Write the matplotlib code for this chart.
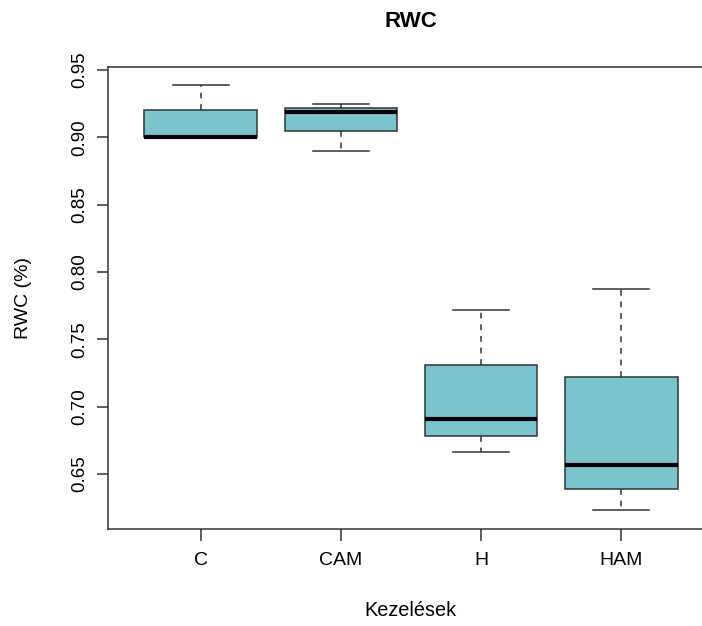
import matplotlib.pyplot as plt

plt.rcParams['font.family'] = ['Liberation Sans', 'DejaVu Sans']

# Boxplot statistics
groups = ['C', 'CAM', 'H', 'HAM']
mins = [0.900, 0.890, 0.666, 0.623]
q1s = [0.900, 0.905, 0.678, 0.639]
medians = [0.900, 0.919, 0.691, 0.6565]
q3s = [0.920, 0.922, 0.731, 0.722]
maxs = [0.939, 0.9245, 0.7715, 0.7875]

stats = []
for name, lo, q1, med, q3, hi in zip(groups, mins, q1s, medians, q3s, maxs):
    stats.append({'label': name, 'whislo': lo, 'q1': q1, 'med': med,
                  'q3': q3, 'whishi': hi, 'fliers': []})

fig = plt.figure(figsize=(7.02, 6.26), dpi=100)
ax = fig.add_axes([108/702, 1 - 529/626, (714 - 108)/702, (529 - 67)/626])

edge = '#333333'
ax.bxp(stats, positions=range(1, len(groups) + 1), widths=0.8,
       patch_artist=True, showfliers=False,
       boxprops=dict(facecolor='#7AC5CD', edgecolor=edge, linewidth=1.1),
       medianprops=dict(color='black', linewidth=3.0, solid_capstyle='butt'),
       whiskerprops=dict(color=edge, linewidth=1.1, linestyle=(0, (3.8, 3.8))),
       capprops=dict(color=edge, linewidth=1.1), capwidths=0.4)

ax.set_xlim(0.34, 4.66)
ax.set_ylim(0.6092, 0.9522)
ax.set_yticks([0.65, 0.70, 0.75, 0.80, 0.85, 0.90, 0.95])
ax.set_yticklabels(['0.65', '0.70', '0.75', '0.80', '0.85', '0.90', '0.95'],
                   rotation=90, va='center')
ax.tick_params(axis='y', length=8, width=1.1, color=edge, pad=6, labelsize=13.5)
ax.tick_params(axis='x', length=8.5, width=1.1, color=edge, pad=8, labelsize=14)

for sp in ax.spines.values():
    sp.set_color(edge)
    sp.set_linewidth(1.1)

ax.set_title('RWC', fontsize=16, fontweight='bold', pad=29)
fig.text(23/702, 1 - 298/626, 'RWC (%)', rotation=90, ha='center', va='center',
         fontsize=14)
fig.text(410/702, 1 - 611/626, 'Kezelések', ha='center', va='center', fontsize=14.3)

fig.savefig('out.png', dpi=100)
